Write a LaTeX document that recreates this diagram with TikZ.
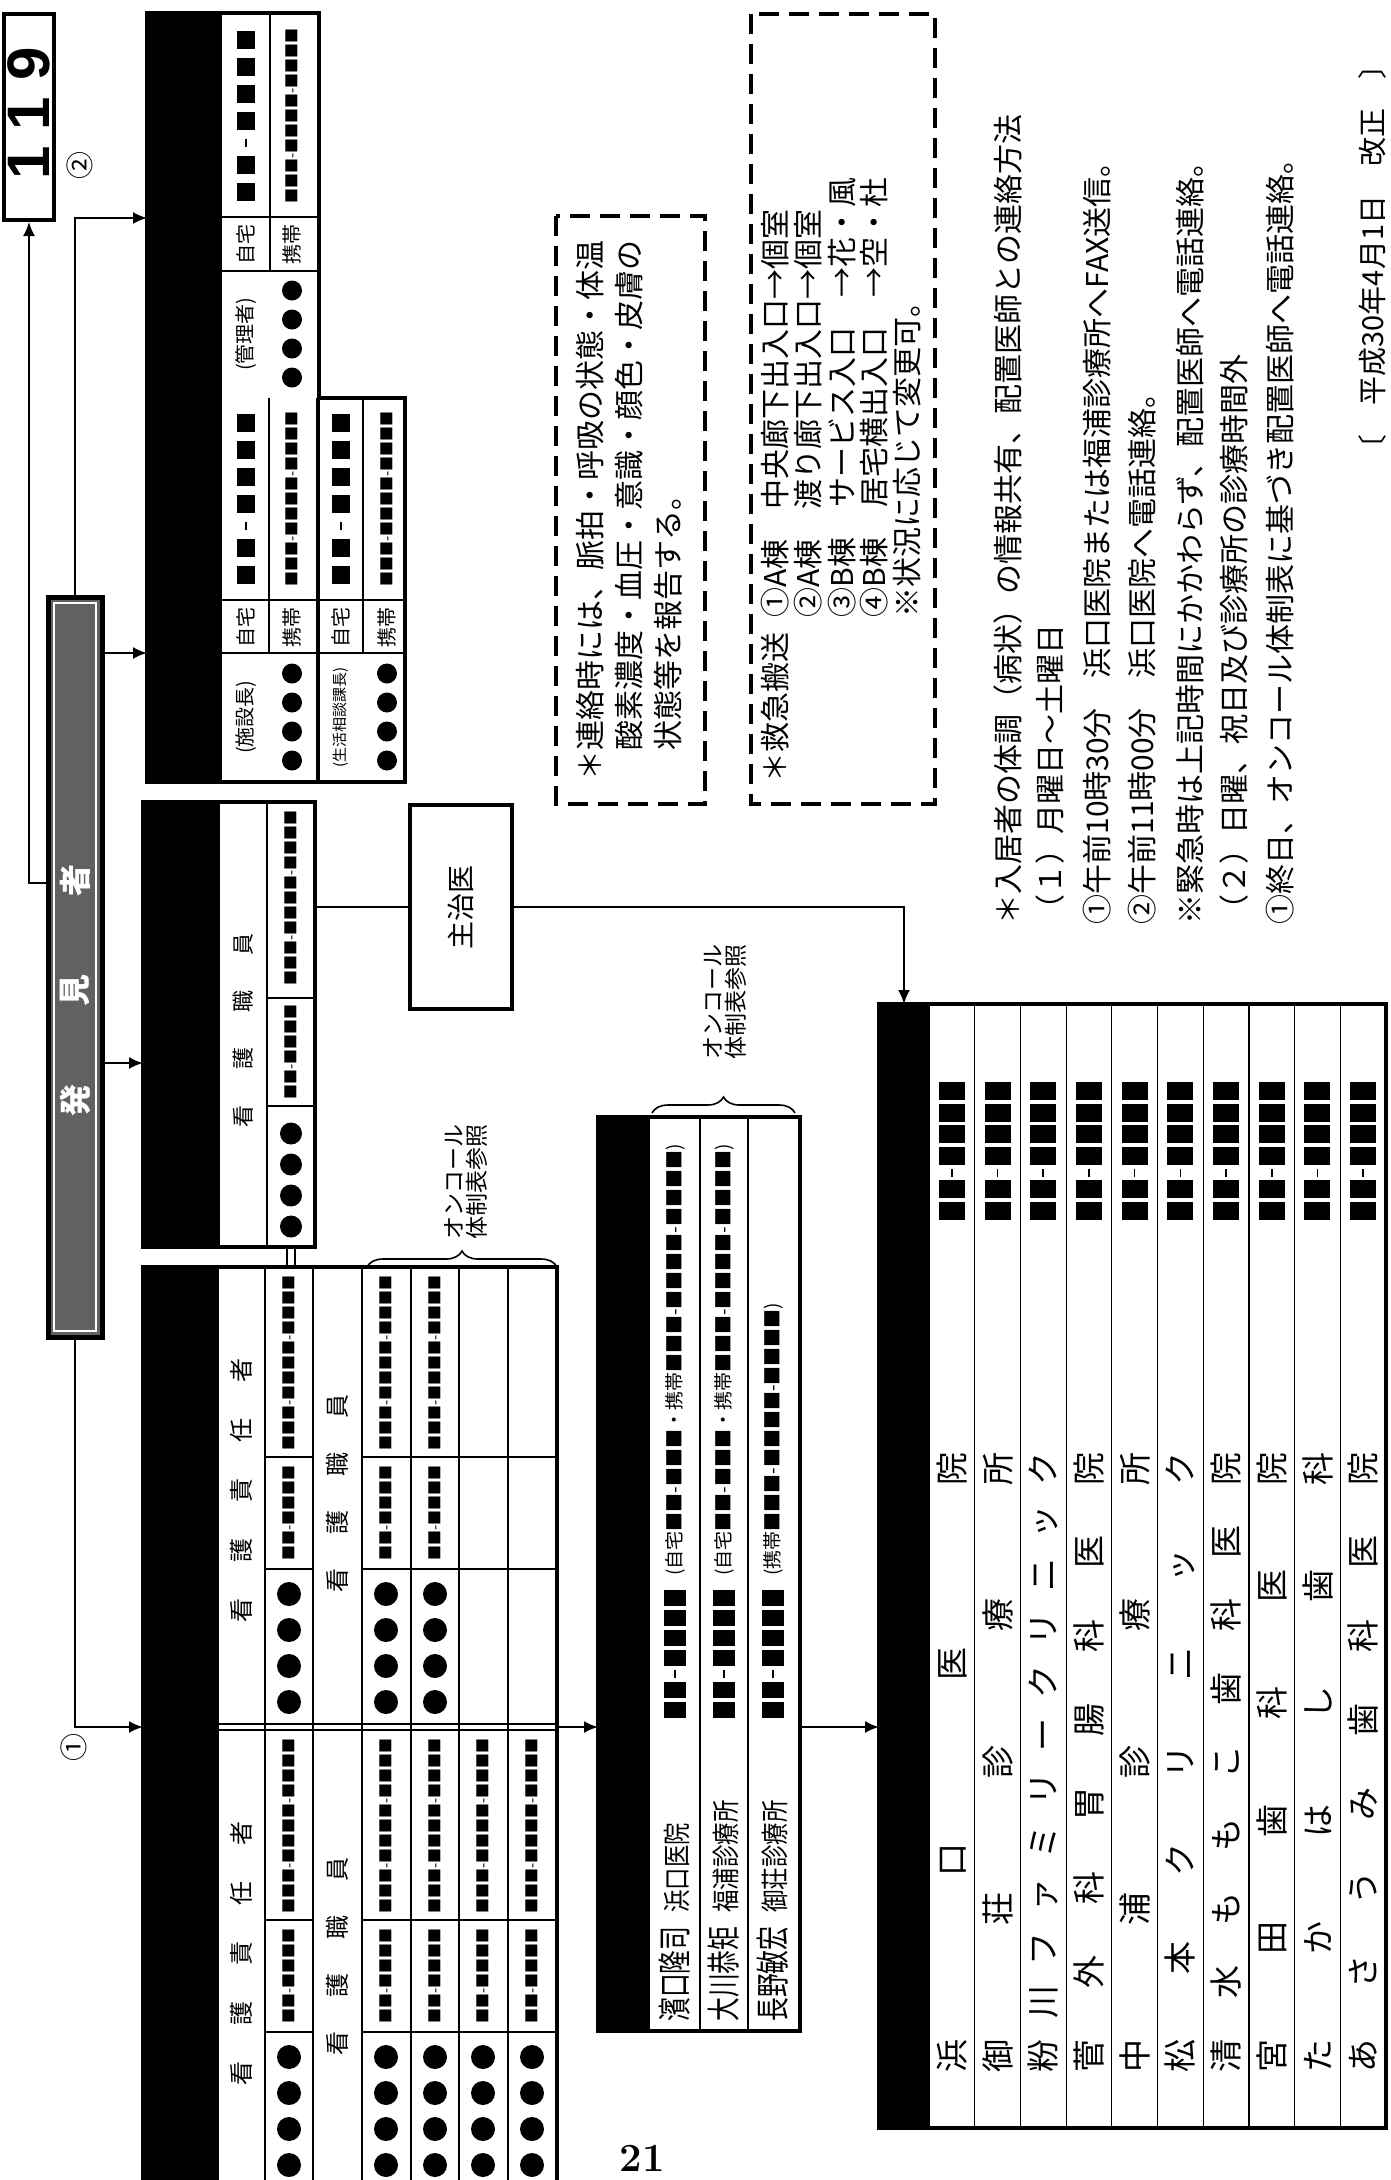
\documentclass[tikz,border=0pt]{standalone}
\usepackage{fontspec}
\usepackage{graphicx}
\newfontfamily\jp{Noto Sans CJK JP}
\newfontfamily\hv{Liberation Sans}
\usetikzlibrary{positioning,arrows.meta,decorations.pathreplacing}
\newcommand\fs[1]{\fontsize{#1}{#1}\selectfont}
% spread the characters of a word over a given width
\def\sprd#1{\ifx#1\relax\else#1\hfil\expandafter\sprd\fi}
\newcommand\jst[2]{\makebox[#1][s]{\expandafter\sprd#2\relax\unskip}}
% phone number drawn as black blocks: width, height, gap, pattern
\newcommand\telno[4]{%
  \def\nbsq{\rule[-0.5\dimexpr#2\relax]{#1}{#2}\hspace{#3}}%
  \def\nbdash{\rule[-0.4pt]{0.45\dimexpr#1\relax}{0.8pt}\hspace{#3}}%
  \def\nbx##1{\ifx##1\relax\else\ifx##1-\nbdash\else\nbsq\fi\expandafter\nbx\fi}%
  \nbx#4\relax\unskip}
% four dots: x, centre y, pitch, radius
\newcommand\fourdots[4]{\foreach \k in {0,...,3} \fill (#1,#2-1.5*#3+\k*#3) circle (#4);}

\begin{document}
\begin{tikzpicture}[x=0.5pt,y=-0.5pt,>={Latex[length=7pt,width=6pt]},
  every node/.style={inner sep=0pt},
  txt/.style={rotate=90,font=\jp},
  frame/.style={line width=1.6pt},
  conn/.style={line width=1pt},
  grid/.style={line width=0.6pt},
  dashbox/.style={line width=2pt,dash pattern=on 10pt off 5pt},
  brc/.style={decorate,decoration={brace,amplitude=8pt},line width=0.8pt}
  ]
\useasboundingbox (0,0) rectangle (1391,2180);
\fill[white] (0,0) rectangle (1391,2180);

% 119
\node[draw,line width=2pt,minimum width=25pt,minimum height=103pt] (b119) at (29,117) {};
\foreach \d/\yy in {1/163,1/114,9/64}
  \node[rotate=90,font=\hv\bfseries\fs{30}] at (29,\yy) {\d};
\node[txt,font=\jp\fs{14}] (m2) at (80,165) {②};

% discoverer
\node[draw,line width=2.5pt,fill=black!62,minimum width=27pt,minimum height=370pt] (hakken) at (75,967) {};
\draw[white,line width=0.8pt] (54,603) rectangle (96,1331);
\foreach \c/\yy in {者/880,見/990,発/1100}
  \node[txt,font=\jp\bfseries\fs{16},text=white] at (75,\yy) {\c};

% top group: managers
\fill (147,13) rectangle (222,782);
\draw[frame] (147,13) -- (319,13) -- (319,398) -- (405,398) -- (405,782) -- (147,782) -- cycle;
\draw[grid] (270,13) -- (270,271);
\draw[grid] (222,217) -- (319,217);
\draw[grid] (222,271) -- (319,271);
\draw[grid] (222,600) -- (405,600);
\draw[grid] (222,653) -- (405,653);
\draw[grid] (269,398) -- (269,653);
\draw[grid] (363,398) -- (363,653);
\draw[frame] (318,398) -- (318,782);
\foreach \cx/\cy/\who/\fw in {246/116/(管理者)/10,246/499/(施設長)/10,341/499/(生活相談課長)/7.5} {
  \node[txt] at (\cx,\cy) {\telno{9pt}{9pt}{4.5pt}{■■-■■■■}};
  \node[txt,font=\jp\fs{7.5}] at (\cx+46,\cy) {■■■-■■■■-■■■■};
  \node[txt,font=\jp\fs{10}] at (\cx,\cy+128) {自宅};
  \node[txt,font=\jp\fs{10}] at (\cx+46,\cy+128) {携帯};
  \node[txt,font=\jp\fs{\fw}] at (\cx,\cy+218) {\who};
  \fourdots{\cx+46}{\cy+218}{29}{5pt}
}

% nursing staff box
\fill (143,802) rectangle (220,1247);
\draw[frame] (143,802) rectangle (315,1247);
\draw[grid] (267,802) -- (267,1247);
\draw[grid] (267,998) -- (315,998);
\draw[grid] (267,1106) -- (315,1106);
\node[txt,font=\jp\fs{11}] at (243,1030) {\jst{97pt}{看護職員}};
\node[txt,font=\jp\fs{7.5}] at (291,898) {■■■-■■■■-■■■■};
\node[txt,font=\jp\fs{7.5}] at (291,1052) {■■-■■■■};
\fourdots{291}{1180}{31}{5.5pt}
\draw[grid] (287,1247) -- (287,1267);
\draw[grid] (295,1247) -- (295,1267);

% attending physician
\node[draw,line width=2pt,minimum width=51pt,minimum height=102pt] (shuji) at (461,907) {};
\node[txt,font=\jp\fs{14}] at (shuji.center) {主治医};

% nurse table
\fill (143,1267) rectangle (218,2185);
\draw[frame] (143,2185) -- (143,1267) -- (557,1267) -- (557,2185);
\foreach \xx in {218,265,313,362,411,459,508}
  \draw[line width=0.9pt] (\xx,1267) -- (\xx,2185);
\draw[line width=1pt] (218,1724) -- (557,1724);
\draw[line width=1pt] (218,1730) -- (557,1730);
\foreach \ty in {1267,1730} {
  \foreach \ly in {190,302} {
    \draw[grid] (265,\ty+\ly) -- (313,\ty+\ly);
    \draw[grid] (362,\ty+\ly) -- (557,\ty+\ly);
  }
  \node[txt,font=\jp\fs{12}] at (241,\ty+223) {\jst{132pt}{看護責任者}};
  \node[txt,font=\jp\fs{12}] at (337,\ty+226) {\jst{99pt}{看護職員}};
}
\foreach \cx/\ty in {289/1267,386/1267,435/1267,289/1730,386/1730,435/1730,483/1730,532/1730} {
  \node[txt,font=\jp\fs{7.5}] at (\cx,\ty+96) {■■■-■■■■-■■■■};
  \node[txt,font=\jp\fs{7.5}] at (\cx,\ty+246) {■■-■■■■};
  \fourdots{\cx}{\ty+381}{36}{6pt}
}
\draw[brc] (367,1267) -- (557,1267);
\node[txt,anchor=west,font=\jp\fs{11.5},align=left] (oc1) at (466,1240) {オンコール\\体制表参照};

% on-call doctors
\fill (598,1117) rectangle (650,2031);
\draw[frame] (598,1117) rectangle (800,2031);
\draw[grid] (700,1117) -- (700,2031);
\draw[grid] (748,1117) -- (748,2031);
\foreach \rx/\nm/\cl/\tel in {675/濱口隆司/浜口医院/(自宅■■-■■■・携帯■■■-■■■■-■■■■),
    724/大川恭矩/福浦診療所/(自宅■■-■■■・携帯■■■-■■■■-■■■■),
    773/長野敏宏/御荘診療所/(携帯■■■-■■■■-■■■■)} {
  \node[txt,anchor=west,font=\jp] at (\rx,2022)
    {\scalebox{0.7}[1]{\fs{17}\nm}\hspace{7pt}\scalebox{0.8}[1]{\fs{14}\cl}};
  \node[txt,anchor=west] at (\rx,1718) {\telno{8pt}{11pt}{2pt}{■■-■■■■}};
  \node[txt,anchor=west,font=\jp\fs{9.5}] at (\rx,1576) {\tel};
}
\draw[brc] (652,1113) -- (795,1113);
\node[txt,anchor=west,font=\jp\fs{11.5},align=left] (oc2) at (725,1060) {オンコール\\体制表参照};

% medical institutions
\fill (879,1004) rectangle (929,2128);
\draw[frame] (879,1004) rectangle (1386,2128);
\foreach \i in {0,...,9}
  \draw[grid] (929+45.7*\i,1004) -- (929+45.7*\i,2128);
\foreach \nm [count=\i] in {浜口医院,御荘診療所,粉川ファミリークリニック,菅外科胃腸科医院,中浦診療所,
    松本クリニック,清水ももこ歯科医院,宮田歯科医院,たかはし歯科,あさうみ歯科医院} {
  \node[txt] at (929+45.7*\i-22.85,1151) {\telno{9pt}{13pt}{1.8pt}{■■-■■■■}};
  \node[txt,font=\jp\fs{16.5}] at (929+45.7*\i-22.85,1762) {\jst{310pt}{\nm}};
}

% connectors
\coordinate (t2) at (147,218);
\coordinate (t1) at (147,653);
\coordinate (n1) at (143,1063);
\coordinate (n2) at (315,907);
\coordinate (s1) at (143,1727);
\coordinate (s2) at (557,1727);
\coordinate (d1) at (598,1727);
\coordinate (d2) at (800,1727);
\coordinate (f1) at (879,1727);
\coordinate (f0) at (904,1004);
\coordinate (h9) at (48,883);
\draw[conn,->] (hakken.north) |- (t2);
\draw[conn,->] (h9) -| (b119.south);
\draw[conn,->] (hakken.east |- t1) -- (t1);
\draw[conn,->] (hakken.east |- n1) -- (n1);
\draw[conn,->] (hakken.south) |- (s1);
\node[txt,font=\jp\fs{14}] (m1) at (74,1747) {①};
\draw[conn] (n2) -- (shuji.west);
\draw[conn,->] (shuji.east) -| (f0);
\draw[conn,->] (s2) -- (d1);
\draw[conn,->] (d2) -- (f1);

% notes in dashed boxes
\draw[dashbox] (556,216) rectangle (705,804);
\node[txt,anchor=west,font=\jp\fs{15}] at (590,781) {＊連絡時には、脈拍・呼吸の状態・体温};
\node[txt,anchor=west,font=\jp\fs{15}] at (629,751) {酸素濃度・血圧・意識・顔色・皮膚の};
\node[txt,anchor=west,font=\jp\fs{15}] at (668,751) {状態等を報告する。};
\draw[dashbox] (751,14) rectangle (935,804);
\node[txt,anchor=west,font=\jp\fs{15}] at (775,783) {＊救急搬送};
\foreach \xx/\tx in {775/①A棟　中央廊下出入口→個室,808/②A棟　渡り廊下出入口→個室,
    842/③B棟　サービス入口　→花・風,874/④B棟　居宅横出入口　→空・杜,907/※状況に応じて変更可。}
  \node[txt,anchor=west,font=\jp\fs{15}] at (\xx,618) {\tx};

% contact rules
\foreach \xx/\tx in {1008/＊入居者の体調（病状）の情報共有、配置医師との連絡方法,
    1050/（１）月曜日～土曜日,
    1097/①午前10時30分　浜口医院または福浦診療所へFAX送信。,
    1142/②午前11時00分　浜口医院へ電話連絡。,
    1190/※緊急時は上記時間にかかわらず、配置医師へ電話連絡。,
    1234/（２）日曜、祝日及び診療所の診療時間外,
    1280/①終日、オンコール体制表に基づき配置医師へ電話連絡。}
  \node[txt,anchor=west,font=\jp\fs{15}] at (\xx,925) {\tx};
\node[txt,font=\jp\fs{14.5}] (rev) at (1372,257) {〔　平成30年4月1日　改正　〕};

\node[font=\bfseries\fs{20}] (pg) at (642,2158) {21};
\end{tikzpicture}
\end{document}
